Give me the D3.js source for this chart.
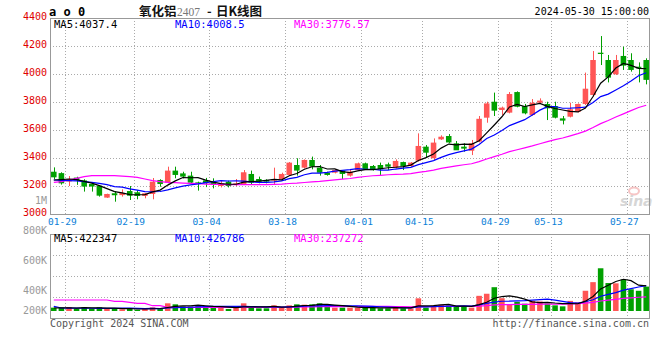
<!DOCTYPE html>
<meta charset="utf-8">
<head>
  <title>氧化铝2407 日K线图</title>
</head>

<style>
body {
  margin: 0;
  background: #fff;
}
svg text {
  font-family: "DejaVu Sans Mono", monospace;
}
</style>

<body>
  <div id="content">
    <svg width="660" height="360"></svg>
  </div>

  <script src="https://cdnjs.cloudflare.com/ajax/libs/d3/7.8.5/d3.min.js"></script>

  <script>
// DATA
var dates = ['01-26',
  '01-29','01-30','01-31','02-01','02-02','02-05','02-06','02-07','02-08',
  '02-19','02-20','02-21','02-22','02-23','02-26','02-27','02-28','02-29','03-01',
  '03-04','03-05','03-06','03-07','03-08','03-11','03-12','03-13','03-14','03-15',
  '03-18','03-19','03-20','03-21','03-22','03-25','03-26','03-27','03-28','03-29',
  '04-01','04-02','04-03','04-08','04-09','04-10','04-11','04-12',
  '04-15','04-16','04-17','04-18','04-19','04-22','04-23','04-24','04-25','04-26',
  '04-29','04-30','05-06','05-07','05-08','05-09','05-10',
  '05-13','05-14','05-15','05-16','05-17','05-20','05-21','05-22','05-23','05-24',
  '05-27','05-28','05-29','05-30'];

var opens = [3302,3292,3232,3260,3240,3214,3202,3117,3148,3135,
  3164,3155,3129,3143,3243,3224,3310,3290,3274,3226,
  3240,3231,3200,3231,3207,3214,3286,3250,3243,3238,
  3250,3279,3350,3331,3386,3331,3295,3295,3310,3274,
  3314,3362,3343,3350,3355,3333,3371,3343,3381,3481,
  3398,3533,3557,3505,3481,3452,3517,3688,3802,3743,
  3724,3871,3771,3707,3795,3786,3771,3683,3695,3729,
  3786,3850,4152,4100,3998,4129,4100,4052,4100];

var highs = [3333,3298,3271,3266,3248,3218,3205,3145,3164,3176,
  3200,3171,3150,3257,3248,3338,3338,3302,3302,3231,
  3258,3255,3238,3238,3250,3314,3310,3267,3248,3331,
  3295,3371,3398,3390,3410,3350,3302,3319,3314,3314,
  3367,3367,3350,3367,3367,3390,3374,3371,3576,3493,
  3540,3562,3571,3521,3505,3529,3700,3802,3867,3767,
  3871,3876,3786,3821,3826,3802,3802,3700,3795,3790,
  4010,4164,4271,4136,4136,4195,4148,4083,4112];

var lows = [3250,3210,3200,3208,3160,3160,3124,3115,3088,3124,
  3100,3105,3112,3105,3195,3219,3255,3255,3214,3167,
  3192,3183,3190,3190,3200,3207,3207,3219,3219,3207,
  3243,3274,3274,3326,3319,3274,3274,3290,3250,3267,
  3310,3314,3310,3279,3314,3326,3314,3338,3374,3405,
  3386,3529,3505,3457,3445,3421,3512,3652,3700,3707,
  3719,3762,3712,3702,3790,3671,3683,3640,3690,3724,
  3779,3838,4064,3940,3993,4029,4017,3940,3926];

var closes = [3262,3219,3250,3240,3196,3196,3131,3143,3134,3150,
  3131,3129,3148,3231,3214,3310,3279,3267,3224,3219,
  3219,3207,3217,3200,3219,3298,3224,3231,3231,3250,
  3286,3367,3310,3386,3338,3295,3279,3314,3286,3302,
  3362,3319,3314,3319,3338,3379,3343,3367,3486,3438,
  3510,3552,3511,3455,3467,3505,3680,3790,3738,3760,
  3857,3766,3719,3795,3810,3755,3688,3667,3748,3786,
  3895,4100,4143,3974,4100,4060,4029,4040,3958];

var volumes = [56000,56000,67000,39000,62000,39000,62000,34000,39000,28000,
  45000,22000,34000,62000,45000,129000,112000,78000,78000,95000,
  78000,67000,56000,34000,56000,129000,78000,45000,45000,95000,
  56000,95000,112000,106000,112000,129000,95000,56000,56000,56000,
  56000,56000,56000,45000,45000,78000,45000,45000,213000,56000,
  90000,105000,90000,67000,67000,56000,255000,290000,400000,215000,
  105000,155000,122000,170000,160000,123000,95000,78000,170000,145000,
  340000,485000,718000,470000,465000,530000,365000,340000,410000];

// moving averages before enough history exists on the chart
var ma5Head = [3243,3246,3250,3245];
var ma10Head = [3243,3240,3238,3236,3231,3226,3219,3210,3195];
var ma30Head = [3226,3231,3243,3255,3267,3274,3274,3274,3274,3271,3267,3262,3250,3238,
  3231,3226,3224,3221,3219,3217,3214,3212,3212,3210,3210,3210,3210,3210,3210];
var vma5Head = [50000,52000,55000,50000];
var vma10Head = [78000,50000,48000,47000,46000,46000,45000,45000,44000];
var vma30Head = [185000,185000,185000,185000,185000,185000,185000,185000,163000,163000,
  146000,129000,129000,89000,89000,62000,62000,62000,62000,62000,
  62000,62000,62000,62000,62000,62000,62000,62000,62000];

var priceTicks = [4400,4200,4000,3800,3600,3400,3200,3000];
var dateTicks = ['01-29','02-19','03-04','03-18','04-01','04-15','04-29','05-13','05-27'];
var volTickLabels = [800000,600000,400000,200000];

var legendPrice = ['MA5:4037.4','MA10:4008.5','MA30:3776.57'];
var legendVol = ['MA5:422347','MA10:426786','MA30:237272'];
var maColors = ['#000','#0000ff','#ff00ff'];

// LAYOUT
var pLeft = 50, pRight = 650, pTop = 18, pBottom = 214;
var vTop = 234, vBottom = 318, vBase = 311;
var upColor = '#ff5555', downColor = '#00a000';

var svg = d3.select('#content svg');

var x = d3.scaleBand()
  .domain(d3.range(dates.length))
  .range([pLeft, pRight])
  .paddingInner(0.27)
  .paddingOuter(0.135);
var step = x.step();
function cx(i) { return x(i) + x.bandwidth() / 2; }
function gx(i) { return Math.round(cx(i) + step / 2) + 0.5; }

var y = d3.scaleLinear().domain([3000, 4400]).range([pBottom, pTop]);
var vy = d3.scaleLinear().domain([0, 1294000]).range([vBase, vTop]);
var volLabelY = d3.scaleLinear().domain([800000, 400000]).range([234.3, 294.3]);

function movingAverage(values, n, head) {
  return values.map(function(v, i) {
    if (i < head.length) return head[i];
    return d3.mean(values.slice(i - n + 1, i + 1));
  });
}

var ma = [movingAverage(closes, 5, ma5Head), movingAverage(closes, 10, ma10Head), movingAverage(closes, 30, ma30Head)];
var vma = [movingAverage(volumes, 5, vma5Head), movingAverage(volumes, 10, vma10Head), movingAverage(volumes, 30, vma30Head)];

// Header
svg.append('text').attr('x', 49).attr('y', 15.5)
  .attr('font-size', 12).attr('font-weight', 'bold').attr('fill', '#000')
  .text('a o 0');

var title = svg.append('text').attr('y', 15.5).attr('font-size', 12.5)
  .attr('font-weight', 'bold')
  .style('font-family', '"Noto Sans CJK SC", sans-serif');
title.append('tspan').attr('x', 139).attr('fill', '#111').text('氧化铝');
title.append('tspan').attr('x', 177).attr('fill', '#777').attr('font-weight', 'normal')
  .style('font-family', '"Liberation Serif", serif').attr('font-size', 11.5).text('2407');
title.append('tspan').attr('x', 207).attr('fill', '#111').text('-');
title.append('tspan').attr('x', 216).attr('fill', '#111').text('日K线图');

svg.append('text').attr('x', 649).attr('y', 15)
  .attr('text-anchor', 'end').attr('font-size', 10).attr('fill', '#000')
  .text('2024-05-30 15:00:00');

// Grid
var grid = svg.append('g').attr('stroke', '#aaa').attr('stroke-dasharray', '1,2').attr('fill', 'none');
priceTicks.slice(1, -1).forEach(function(p) {
  var yy = Math.round(y(p)) + 0.5;
  grid.append('line').attr('x1', pLeft).attr('x2', pRight).attr('y1', yy).attr('y2', yy);
});
[1, 2, 3].forEach(function(k) {
  var yy = Math.round(vTop + (vBottom - vTop) * k / 4) + 0.5;
  grid.append('line').attr('x1', pLeft).attr('x2', pRight).attr('y1', yy).attr('y2', yy);
});
dateTicks.forEach(function(d) {
  var i = dates.indexOf(d);
  grid.append('line').attr('x1', gx(i)).attr('x2', gx(i)).attr('y1', pTop).attr('y2', pBottom);
  grid.append('line').attr('x1', gx(i)).attr('x2', gx(i)).attr('y1', vTop).attr('y2', vBottom + 3);
});

// Price axis labels
svg.append('g').selectAll('text').data(priceTicks).join('text')
  .attr('x', 47).attr('y', function(d) { return y(d) + 2.2; })
  .attr('text-anchor', 'end').attr('font-size', 10).attr('fill', '#e00000')
  .text(function(d) { return d; });

svg.append('text').attr('x', 47).attr('y', 204.3)
  .attr('text-anchor', 'end').attr('font-size', 10).attr('fill', '#999').text('1M');

// Volume axis labels
svg.append('g').selectAll('text').data(volTickLabels).join('text')
  .attr('x', 47).attr('y', function(d) { return Math.min(volLabelY(d), vBase + 3.3); })
  .attr('text-anchor', 'end').attr('font-size', 10).attr('fill', '#999')
  .text(function(d) { return (d / 1000) + 'K'; });

// Date labels
svg.append('g').selectAll('text').data(dateTicks).join('text')
  .attr('x', function(d) { return cx(dates.indexOf(d)) + 1; }).attr('y', 225)
  .attr('text-anchor', 'middle').attr('font-size', 9.5).attr('fill', '#0a80d8')
  .text(function(d) { return d; });

// Sina watermark
var wm = svg.append('g').attr('opacity', 0.6);
wm.append('ellipse').attr('cx', 634).attr('cy', 191).attr('rx', 5).attr('ry', 3.5)
  .attr('fill', 'none').attr('stroke', '#f2a0a0').attr('stroke-width', 2);
wm.append('text').attr('x', 620).attr('y', 206)
  .attr('font-size', 14).attr('font-weight', 'bold').attr('font-style', 'italic')
  .attr('fill', '#bbb').style('font-family', '"DejaVu Sans", sans-serif').text('sina');

// Candles
var candles = svg.append('g');
dates.forEach(function(d, i) {
  var up = closes[i] >= opens[i];
  var col = up ? upColor : downColor;
  var xc = Math.round(cx(i)) + 0.5;
  candles.append('line').attr('x1', xc).attr('x2', xc)
    .attr('y1', y(highs[i])).attr('y2', y(lows[i]))
    .attr('stroke', col).attr('stroke-width', 1);
  var yTop = y(Math.max(opens[i], closes[i]));
  var h = Math.max(1.2, y(Math.min(opens[i], closes[i])) - yTop);
  candles.append('rect').attr('x', x(i)).attr('width', x.bandwidth())
    .attr('y', yTop).attr('height', h).attr('fill', col);
});

// Volume bars
svg.append('g').selectAll('rect').data(volumes).join('rect')
  .attr('x', function(d, i) { return x(i); })
  .attr('width', x.bandwidth())
  .attr('y', function(d) { return vy(d); })
  .attr('height', function(d) { return vBase - vy(d); })
  .attr('fill', function(d, i) { return closes[i] >= opens[i] ? upColor : downColor; });

// MA lines
var priceLine = d3.line().x(function(d, i) { return cx(i); }).y(function(d) { return y(d); });
var volLine = d3.line().x(function(d, i) { return cx(i); }).y(function(d) { return vy(d); });
[2, 1, 0].forEach(function(k) {
  svg.append('path').attr('d', priceLine(ma[k]))
    .attr('fill', 'none').attr('stroke', maColors[k]).attr('stroke-width', 1.2);
  svg.append('path').attr('d', volLine(vma[k]))
    .attr('fill', 'none').attr('stroke', maColors[k]).attr('stroke-width', 1.2);
});

// Panel borders
svg.append('rect').attr('x', pLeft + 0.5).attr('y', pTop + 0.5)
  .attr('width', pRight - pLeft - 1).attr('height', pBottom - pTop)
  .attr('fill', 'none').attr('stroke', '#999');
svg.append('rect').attr('x', pLeft + 0.5).attr('y', vTop + 0.5)
  .attr('width', pRight - pLeft - 1).attr('height', vBottom - vTop)
  .attr('fill', 'none').attr('stroke', '#999');

// Legends
var legendX = [54, 175, 294];
legendPrice.forEach(function(t, k) {
  svg.append('text').attr('x', legendX[k]).attr('y', 27.6)
    .attr('font-size', 10.5).attr('fill', maColors[k]).text(t);
});
legendVol.forEach(function(t, k) {
  svg.append('text').attr('x', legendX[k]).attr('y', 242)
    .attr('font-size', 10.5).attr('fill', maColors[k]).text(t);
});

// Footer
svg.append('text').attr('x', 50).attr('y', 327)
  .attr('font-size', 10).attr('fill', '#555').text('Copyright 2024 SINA.COM');
svg.append('text').attr('x', 649).attr('y', 327)
  .attr('text-anchor', 'end').attr('font-size', 10).attr('fill', '#555')
  .text('http://finance.sina.com.cn');
  </script>
</body>
</html>
